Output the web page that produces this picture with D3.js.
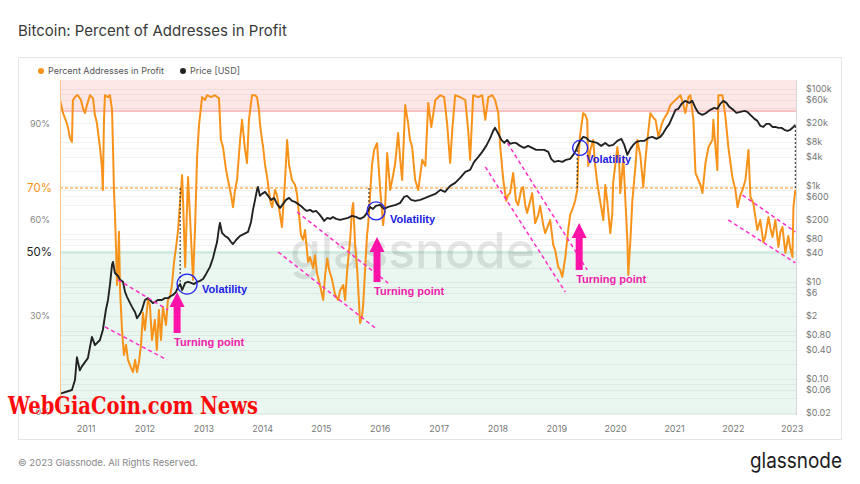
<!DOCTYPE html>
<html>
<head>
<meta charset="utf-8">
<script src="https://cdn.jsdelivr.net/npm/d3@7"></script>
<style>
  body { margin: 0; background: #fff; }
  svg { display: block; font-family: Inter, "Noto Sans", sans-serif; }
</style>
</head>
<body>
<svg id="chart" width="860" height="484"></svg>
<script>
// percent of addresses in profit
const profitSeries = [
["2010-07-23",97.5],["2010-08-11",93.4],["2010-08-29",91],["2010-09-10",89],["2010-09-23",85.6],["2010-10-05",84.4],["2010-10-11",97.5],["2010-10-30",98.8],["2010-11-11",99],["2010-11-30",97.5],["2010-12-12",95],["2010-12-25",93.4],
["2011-01-07",96],["2011-01-25",99],["2011-02-13",98],["2011-02-25",92.8],["2011-03-09",90.3],["2011-03-28",82.8],["2011-04-09",76.6],["2011-04-15",69.4],["2011-04-22",91],["2011-04-28",99],["2011-05-17",98.4],["2011-05-29",99],["2011-06-11",94.4],["2011-06-17",82.8],["2011-06-23",69.4],["2011-06-29",62.2],["2011-07-06",50.6],["2011-07-12",39.7],["2011-07-18",46],["2011-07-24",56.3],["2011-07-31",38],["2011-08-12",25.6],["2011-08-24",17.8],["2011-09-06",21],["2011-09-18",16.3],["2011-10-07",13.8],["2011-10-19",12.5],["2011-11-01",16.3],["2011-11-13",12.5],["2011-11-25",15.6],["2011-12-08",21],["2011-12-20",31],
["2012-01-01",25.6],["2012-01-20",35],["2012-02-01",33.4],["2012-02-14",22.5],["2012-03-03",28.8],["2012-03-15",19.4],["2012-03-28",31.9],["2012-04-10",22.5],["2012-04-22",32.8],["2012-05-11",27.2],["2012-05-23",35],["2012-06-05",36],["2012-06-17",39.7],["2012-06-30",46.9],["2012-07-12",51.3],["2012-07-25",56.9],["2012-08-07",66],["2012-08-19",74],["2012-08-25",66],["2012-09-07",45.3],["2012-09-19",64.7],["2012-09-25",73.4],["2012-10-08",60],["2012-10-26",41.3],["2012-11-07",56.9],["2012-11-20",79.7],["2012-12-02",89.7],["2012-12-21",98.4],
["2013-01-09",97.5],["2013-01-21",99],["2013-02-15",98.4],["2013-03-11",99],["2013-04-05",98],["2013-04-17",85],["2013-04-30",82.8],["2013-05-19",75.6],["2013-05-31",72.5],["2013-06-19",67.8],["2013-07-01",64],["2013-07-14",69.4],["2013-07-26",72.5],["2013-08-14",85],["2013-08-26",91.3],["2013-09-14",81.9],["2013-09-26",77.8],["2013-10-08",91.3],["2013-10-27",99],["2013-11-15",99],["2013-11-27",98.4],["2013-12-09",94.4],["2013-12-15",90.3],["2013-12-28",85],
["2014-01-04",82.8],["2014-01-16",77.2],["2014-01-29",73.4],["2014-02-17",66],["2014-03-01",64],["2014-03-19",69.4],["2014-03-31",67.8],["2014-04-19",61.6],["2014-05-01",57.8],["2014-05-20",72.5],["2014-06-02",85],["2014-06-14",77.2],["2014-07-02",72.5],["2014-07-21",71],["2014-08-03",67.8],["2014-08-15",61.6],["2014-08-27",55.3],["2014-09-09",53.8],["2014-09-21",56.9],["2014-10-10",46.9],["2014-10-22",48.4],["2014-11-10",45],["2014-11-22",49],["2014-12-04",43.4],["2014-12-23",39.7],
["2015-01-12",35],["2015-01-24",42.8],["2015-02-06",48],["2015-02-18",44.4],["2015-03-08",41.3],["2015-03-27",36.6],["2015-04-15",35],["2015-04-27",38],["2015-05-16",39.7],["2015-05-28",35],["2015-06-10",44.4],["2015-06-28",53.8],["2015-07-10",63.1],["2015-07-17",65.3],["2015-07-29",52.2],["2015-08-11",44.4],["2015-08-23",33.4],["2015-08-29",27.8],["2015-09-11",30.3],["2015-09-17",33.4],["2015-09-29",44.4],["2015-10-11",55.3],["2015-10-18",58.4],["2015-10-30",67.8],["2015-11-11",77.2],["2015-11-24",81.9],["2015-12-12",84],
["2016-01-01",69.4],["2016-01-19",58.4],["2016-02-01",64.7],["2016-02-13",80.9],["2016-03-03",69.4],["2016-03-21",74],["2016-04-03",77.8],["2016-04-21",87.2],["2016-05-04",78.8],["2016-05-16",72.5],["2016-06-04",95.9],["2016-06-22",90.3],["2016-07-04",85],["2016-07-17",82.8],["2016-08-05",72.5],["2016-08-24",69.4],["2016-09-18",78.8],["2016-10-07",76.9],["2016-10-25",96.6],["2016-11-13",89],["2016-12-08",97.5],
["2017-01-08",99],["2017-02-01",98.4],["2017-02-20",89.7],["2017-03-10",77.8],["2017-03-23",88],["2017-04-10",99],["2017-05-11",98.4],["2017-06-12",97.5],["2017-06-30",88],["2017-07-12",78.8],["2017-07-31",99],["2017-09-01",98.4],["2017-09-25",99],["2017-10-14",91.3],["2017-11-02",98.4],["2017-11-27",99],["2017-12-14",97.5],
["2018-01-03",93.4],["2018-01-15",82.8],["2018-02-03",72.5],["2018-02-21",66],["2018-03-05",67.8],["2018-03-17",68.4],["2018-04-05",74.7],["2018-04-23",66],["2018-05-06",64.7],["2018-05-25",69.4],["2018-06-06",70.3],["2018-06-19",64.7],["2018-07-01",62.2],["2018-07-20",66],["2018-08-01",68.4],["2018-08-20",59],["2018-09-08",61.6],["2018-09-20",64.4],["2018-10-09",58.4],["2018-10-21",55.9],["2018-11-09",58.4],["2018-11-21",60],["2018-12-10",52.2],["2018-12-22",50.6],
["2019-01-10",45.3],["2019-01-22",44.4],["2019-02-04",42.2],["2019-02-23",48.4],["2019-03-13",56.9],["2019-03-25",61.6],["2019-04-13",64],["2019-04-25",66],["2019-05-08",69.4],["2019-05-14",78.8],["2019-05-26",86.6],["2019-06-08",91.3],["2019-06-14",93.4],["2019-06-27",92.8],["2019-07-09",91.3],["2019-07-15",76.9],["2019-07-28",81.9],["2019-08-15",85],["2019-08-27",77.2],["2019-09-09",71.6],["2019-09-27",66],["2019-10-17",60],["2019-10-29",70.9],["2019-11-10",66],["2019-11-29",55.9],["2019-12-11",61.6],["2019-12-17",71.6],["2019-12-30",77.2],
["2020-01-12",82.8],["2020-01-24",77.2],["2020-01-30",68.4],["2020-02-12",75.6],["2020-02-18",79.7],["2020-03-02",66],["2020-03-14",53.8],["2020-03-20",42.8],["2020-04-02",53.8],["2020-04-14",66],["2020-05-03",76.6],["2020-05-15",85],["2020-06-03",80],["2020-06-21",70.3],["2020-07-04",78.8],["2020-07-16",85],["2020-08-04",93.4],["2020-08-23",91.9],["2020-09-05",91.3],["2020-09-23",85.9],["2020-10-12",89.7],["2020-10-24",91.3],["2020-11-18",93.4],["2020-12-06",95.9],["2020-12-19",96.6],
["2021-01-07",97.5],["2021-01-25",98.4],["2021-02-07",99],["2021-02-25",95.9],["2021-03-09",93.4],["2021-03-28",98.4],["2021-04-09",99],["2021-04-28",91.3],["2021-05-11",74.7],["2021-05-29",72.5],["2021-06-11",71],["2021-06-23",68.4],["2021-07-12",77.8],["2021-07-31",82.8],["2021-08-24",85],["2021-08-30",91.3],["2021-09-11",83.4],["2021-09-24",75.6],["2021-09-30",99],["2021-10-25",99],["2021-11-13",92.2],["2021-12-01",82.8],["2021-12-26",73.4],
["2022-01-14",69.4],["2022-01-27",64],["2022-02-14",67.8],["2022-02-27",69.4],["2022-03-17",72.5],["2022-04-05",81.9],["2022-04-17",67.2],["2022-05-05",65.3],["2022-05-30",56.9],["2022-06-17",60],["2022-07-06",53.1],["2022-07-18",54.7],["2022-08-07",60.9],["2022-08-19",57.5],["2022-09-01",54.7],["2022-09-19",60],["2022-10-08",51.6],["2022-10-20",56.3],["2022-11-02",57.8],["2022-11-20",49.7],["2022-12-08",55],["2022-12-20",51.3],
["2023-01-03",48.4],["2023-01-09",64],["2023-01-21",69.4]
];

// price in USD (log axis on the right)
const priceSeries = [
["2010-07-23",0.05],["2010-08-04",0.051],["2010-09-05",0.055],["2010-10-05",0.059],["2010-10-24",0.095],["2010-11-05",0.28],["2010-11-23",0.15],["2010-12-05",0.18],["2010-12-24",0.22],
["2011-01-12",0.27],["2011-02-06",0.74],["2011-02-25",0.5],["2011-03-09",0.55],["2011-03-28",0.64],["2011-04-15",1.03],["2011-05-04",2.7],["2011-05-17",4.3],["2011-05-29",8.8],["2011-06-11",22.9],["2011-06-17",26.4],["2011-06-29",15.6],["2011-07-18",13.5],["2011-07-31",11.2],["2011-08-18",10.2],["2011-08-31",6.3],["2011-09-12",5.0],["2011-10-01",3.7],["2011-10-13",3.1],["2011-11-01",2.4],["2011-11-13",1.8],["2011-12-01",2.2],["2011-12-14",2.7],
["2012-01-01",4.3],["2012-01-20",4.7],["2012-02-01",4.3],["2012-02-20",3.7],["2012-03-03",3.9],["2012-03-21",4.3],["2012-04-16",4.3],["2012-05-04",4.7],["2012-05-23",4.7],["2012-06-11",5.2],["2012-06-24",5.5],["2012-07-12",6.3],["2012-07-25",8.0],["2012-08-07",9.2],["2012-08-19",6.9],["2012-09-07",9.7],["2012-09-25",10.2],["2012-10-14",9.7],["2012-11-01",9.2],["2012-11-20",10.2],["2012-12-08",10.7],["2012-12-27",11.7],
["2013-01-15",14.9],["2013-02-08",20.8],["2013-02-27",31.9],["2013-03-11",46.7],["2013-03-24",68],["2013-04-05",133],["2013-04-11",169],["2013-04-24",105],["2013-05-12",91],["2013-05-31",83],["2013-06-19",68],["2013-07-01",62],["2013-07-20",75],["2013-08-14",91],["2013-09-08",100],["2013-10-02",110],["2013-10-21",177],["2013-11-02",315],["2013-11-15",507],["2013-11-27",817],["2013-12-03",942],["2013-12-15",614],["2013-12-28",675],
["2014-01-16",743],["2014-02-04",614],["2014-02-23",507],["2014-03-13",557],["2014-03-31",419],["2014-04-19",346],["2014-05-08",419],["2014-05-26",507],["2014-06-14",557],["2014-07-02",483],["2014-07-21",461],["2014-08-08",419],["2014-08-27",380],["2014-09-15",330],["2014-10-03",300],["2014-10-22",315],["2014-11-10",286],["2014-11-28",300],["2014-12-17",260],
["2015-01-05",215],["2015-01-18",186],["2015-02-06",215],["2015-02-24",205],["2015-03-14",225],["2015-04-02",205],["2015-04-27",195],["2015-05-21",205],["2015-06-15",215],["2015-07-10",236],["2015-08-03",225],["2015-08-29",205],["2015-09-22",225],["2015-10-11",273],["2015-10-30",363],["2015-11-17",330],["2015-12-05",380],["2015-12-30",399],
["2016-01-24",330],["2016-02-20",363],["2016-03-13",380],["2016-04-07",399],["2016-05-04",440],["2016-05-28",585],["2016-06-16",614],["2016-07-11",507],["2016-08-05",483],["2016-09-05",507],["2016-10-07",557],["2016-11-06",614],["2016-12-08",675],
["2017-01-08",817],["2017-02-06",743],["2017-03-10",988],["2017-04-10",1140],["2017-05-11",1450],["2017-06-12",1930],["2017-07-12",2120],["2017-08-06",3100],["2017-09-01",3940],["2017-09-25",5000],["2017-10-20",6650],["2017-11-14",9730],["2017-12-02",13600],["2017-12-14",15700],
["2018-01-03",11800],["2018-01-22",8850],["2018-02-09",7670],["2018-02-27",8850],["2018-03-17",7310],["2018-04-05",7670],["2018-04-23",7670],["2018-05-18",6650],["2018-06-12",6040],["2018-07-07",6650],["2018-08-01",6040],["2018-08-26",5500],["2018-09-20",5500],["2018-10-15",5500],["2018-11-09",5000],["2018-11-27",3580],["2018-12-16",3100],
["2019-01-10",3250],["2019-02-04",3100],["2019-02-27",3410],["2019-03-25",3580],["2019-04-13",4330],["2019-05-02",5500],["2019-05-14",6970],["2019-05-26",8430],["2019-06-14",10200],["2019-07-03",9730],["2019-07-21",8430],["2019-08-15",8040],["2019-09-09",7670],["2019-10-04",6650],["2019-10-29",7670],["2019-11-22",6650],["2019-12-17",6970],
["2020-01-12",8430],["2020-02-06",9270],["2020-02-24",6970],["2020-03-14",4330],["2020-04-02",5770],["2020-04-20",6970],["2020-05-09",8040],["2020-06-03",8430],["2020-06-27",8430],["2020-07-22",9730],["2020-08-16",10200],["2020-09-11",9270],["2020-10-05",10200],["2020-10-24",12400],["2020-11-12",15700],["2020-11-30",19000],["2020-12-19",26500],
["2021-01-07",37000],["2021-01-25",38800],["2021-02-13",49200],["2021-03-09",56800],["2021-04-03",51600],["2021-04-21",56800],["2021-05-11",40600],["2021-05-29",32100],["2021-06-23",29200],["2021-07-18",32100],["2021-08-11",37000],["2021-09-05",40600],["2021-09-24",38800],["2021-10-12",49200],["2021-10-31",56800],["2021-11-19",51600],["2021-12-07",42700],
["2022-01-01",37000],["2022-01-20",32100],["2022-02-14",33700],["2022-03-11",35200],["2022-03-29",33700],["2022-04-17",29200],["2022-05-12",24100],["2022-05-30",21900],["2022-06-17",17300],["2022-07-06",16400],["2022-07-25",19000],["2022-08-13",19000],["2022-09-01",16400],["2022-09-19",16400],["2022-10-08",15700],["2022-10-27",15700],["2022-11-14",14300],["2022-12-03",13600],["2022-12-20",14300],
["2023-01-09",16400],["2023-01-21",18100]
];

const priceTicks = [100000, 60000, 20000, 8000, 4000, 1000, 600, 200, 80, 40, 10, 6, 2, 0.8, 0.4, 0.1, 0.06, 0.02];
const priceTickLabels = ["$100k","$60k","$20k","$8k","$4k","$1k","$600","$200","$80","$40","$10","$6","$2","$0.80","$0.40","$0.10","$0.06","$0.02"];
const priceGrid = [0.02,0.04,0.06,0.08,0.1,0.2,0.4,0.6,0.8,1,2,4,6,8,10,20,40,60,80,100,200,400,600,800,1000,2000,4000,6000,8000,10000,20000,40000,60000,80000,100000];
const yearTicks = [2011,2012,2013,2014,2015,2016,2017,2018,2019,2020,2021,2022,2023];
const pctTicks = [90, 60, 30, 0];
const pctMarked = [70, 50];
const redLevel = 94, orangeLevel = 70, greenLevel = 50;

// editor annotations, in data units
const trendDates = [["2011-07-18","2012-05-23"],["2011-04-28","2012-05-17"],["2014-08-03","2016-02-19"],["2014-04-07","2015-11-30"],["2018-02-28","2019-07-09"],["2017-10-14","2019-02-23"],["2022-02-27","2023-01-21"],["2021-12-01","2023-01-21"]];
const trendPcts = [[41.3,31.9],[26.6,16.3],[62.5,40.3],[50,26.3],[84.1,44.4],[76.6,37.5],[67.8,56.3],[60,46.6]];
const volatilityDates = ["2012-09-19","2015-12-06","2019-05-26"];
const volatilityPrices = [9.2, 300, 6040];
const turningDates = ["2012-07-19","2015-12-12","2019-05-20"];
const turningTops = [37.5, 54.7, 59.1];
const turningBottoms = [24.7, 40.6, 44.4];
const connectorDates = ["2012-08-07","2015-10-23","2019-05-08","2023-01-21"];

const parse = d3.timeParse("%Y-%m-%d");
const profit = profitSeries.map(d => ({date: parse(d[0]), v: d[1]}));
const price = priceSeries.map(d => ({date: parse(d[0]), v: d[1]}));

const plot = {left: 60, right: 796, top: 80, bottom: 415};

const x = d3.scaleTime()
    .domain([parse("2010-07-23"), parse("2023-01-25")])
    .range([plot.left, plot.right]);
const yPct = d3.scaleLinear().domain([0, 100]).range([412, 92]);
const yPrice = d3.scaleLog().domain([0.02, 100000]).range([412.7, 89]);

const svg = d3.select("#chart");

// card
svg.append("rect").attr("x", 18.5).attr("y", 57.5).attr("width", 823).attr("height", 382)
    .attr("fill", "#fff").attr("stroke", "#e6e6e6");

svg.append("text").attr("x", 18).attr("y", 36)
    .attr("font-size", 15).attr("fill", "#3a3a3a")
    .text("Bitcoin: Percent of Addresses in Profit");

// legend
let legend = svg.append("g").attr("font-size", 9).attr("fill", "#555");
legend.append("circle").attr("cx", 41).attr("cy", 71).attr("r", 3).attr("fill", "#f7931a");
legend.append("text").attr("x", 48).attr("y", 74).text("Percent Addresses in Profit");
legend.append("circle").attr("cx", 183).attr("cy", 71).attr("r", 3).attr("fill", "#222");
legend.append("text").attr("x", 190).attr("y", 74).text("Price [USD]");

svg.append("clipPath").attr("id", "clip")
    .append("rect").attr("x", plot.left).attr("y", plot.top)
    .attr("width", plot.right - plot.left).attr("height", plot.bottom - plot.top);

let g = svg.append("g").attr("clip-path", "url(#clip)");

// zones
g.append("rect").attr("x", plot.left).attr("y", plot.top)
    .attr("width", plot.right - plot.left).attr("height", yPct(redLevel) - plot.top)
    .attr("fill", "#fde7e7");
g.append("rect").attr("x", plot.left).attr("y", yPct(greenLevel))
    .attr("width", plot.right - plot.left).attr("height", plot.bottom - yPct(greenLevel))
    .attr("fill", "#e9f7f0");

// log grid
g.selectAll("line.grid").data(priceGrid).enter().append("line")
    .attr("class", "grid")
    .attr("x1", plot.left).attr("x2", plot.right)
    .attr("y1", d => Math.round(yPrice(d)) + 0.5).attr("y2", d => Math.round(yPrice(d)) + 0.5)
    .attr("stroke", "#000").attr("stroke-opacity", 0.05);

g.append("line").attr("x1", plot.left).attr("x2", plot.right)
    .attr("y1", yPct(redLevel)).attr("y2", yPct(redLevel))
    .attr("stroke", "#f4aaaa").attr("stroke-width", 1.2);
g.append("line").attr("x1", plot.left).attr("x2", plot.right)
    .attr("y1", yPct(greenLevel)).attr("y2", yPct(greenLevel))
    .attr("stroke", "#a9e2c5").attr("stroke-width", 1.2);

// watermark
g.append("text").attr("x", 290).attr("y", 268)
    .attr("font-size", 50).attr("font-weight", 500)
    .attr("textLength", 245).attr("lengthAdjust", "spacingAndGlyphs")
    .attr("fill", "#000").attr("fill-opacity", 0.1)
    .text("glassnode");

g.append("line").attr("x1", plot.left).attr("x2", plot.right)
    .attr("y1", yPct(orangeLevel)).attr("y2", yPct(orangeLevel))
    .attr("stroke", "#f7931a").attr("stroke-width", 1).attr("stroke-dasharray", "3,2");

let pctLine = d3.line().x(d => x(d.date)).y(d => yPct(d.v));
let priceLine = d3.line().x(d => x(d.date)).y(d => yPrice(d.v));

g.append("path").datum(profit).attr("d", pctLine)
    .attr("fill", "none").attr("stroke", "#f7931a").attr("stroke-width", 2)
    .attr("stroke-linejoin", "round");
g.append("path").datum(price).attr("d", priceLine)
    .attr("fill", "none").attr("stroke", "#222").attr("stroke-width", 1.9)
    .attr("stroke-linejoin", "round");

// plot edges
svg.append("line").attr("x1", plot.left + 0.5).attr("x2", plot.left + 0.5)
    .attr("y1", plot.top).attr("y2", plot.bottom).attr("stroke", "#f9c690");
svg.append("line").attr("x1", plot.right + 0.5).attr("x2", plot.right + 0.5)
    .attr("y1", plot.top).attr("y2", plot.bottom).attr("stroke", "#d6d6d6");

// dashed connectors from the 70% line to the price
let bis = d3.bisector(d => d.date).center;
connectorDates.forEach(function (s) {
    let dt = parse(s);
    let p = price[bis(price, dt)];
    svg.append("line").attr("x1", x(dt)).attr("x2", x(dt))
        .attr("y1", yPct(orangeLevel)).attr("y2", yPrice(p.v))
        .attr("stroke", "#333").attr("stroke-width", 1.1).attr("stroke-dasharray", "2,2");
});

// trend channels
trendDates.forEach(function (d, i) {
    svg.append("line")
        .attr("x1", x(parse(d[0]))).attr("y1", yPct(trendPcts[i][0]))
        .attr("x2", x(parse(d[1]))).attr("y2", yPct(trendPcts[i][1]))
        .attr("stroke", "#ff2fc8").attr("stroke-width", 1.5).attr("stroke-dasharray", "4,3");
});

// volatility circles
let circleR = [10, 9, 7.5];
let volOffset = [[15, 9], [14, 12], [6, 15]];
volatilityDates.forEach(function (s, i) {
    let cx = x(parse(s)), cy = yPrice(volatilityPrices[i]);
    svg.append("circle").attr("cx", cx).attr("cy", cy).attr("r", circleR[i])
        .attr("fill", "none").attr("stroke", "#2424f0").attr("stroke-width", 1.3);
    svg.append("text").attr("x", cx + volOffset[i][0]).attr("y", cy + volOffset[i][1])
        .attr("font-family", "Liberation Sans, Arial, sans-serif")
        .attr("font-weight", "bold").attr("font-size", 11).attr("fill", "#2020e6")
        .text("Volatility");
});

// turning point arrows
turningDates.forEach(function (s, i) {
    let cx = x(parse(s)), tip = yPct(turningTops[i]), base = yPct(turningBottoms[i]);
    let head = 15, hw = 7.5, sw = 3.5;
    let pts = [[cx, tip], [cx + hw, tip + head], [cx + sw, tip + head], [cx + sw, base],
               [cx - sw, base], [cx - sw, tip + head], [cx - hw, tip + head]];
    svg.append("path").attr("d", "M" + pts.join("L") + "Z").attr("fill", "#ff12a8");
    svg.append("text").attr("x", cx - 3).attr("y", base + 13)
        .attr("font-family", "Liberation Sans, Arial, sans-serif")
        .attr("font-weight", "bold").attr("font-size", 11).attr("fill", "#f020aa")
        .text("Turning point");
});

// right axis labels
svg.append("g").attr("font-size", 9).attr("fill", "#777")
    .selectAll("text").data(priceTicks).enter().append("text")
    .attr("x", 806).attr("y", d => yPrice(d)).attr("dy", "0.35em")
    .text((d, i) => priceTickLabels[i]);

// left axis labels
svg.append("g").attr("font-size", 9).attr("fill", "#888").attr("text-anchor", "end")
    .selectAll("text").data(pctTicks).enter().append("text")
    .attr("x", 50).attr("y", d => yPct(d)).attr("dy", "0.35em")
    .text(d => d + "%");
svg.append("g").attr("font-size", 11.5).attr("text-anchor", "end")
    .selectAll("text").data(pctMarked).enter().append("text")
    .attr("x", 52).attr("y", d => yPct(d)).attr("dy", "0.35em")
    .attr("fill", d => d === orangeLevel ? "#f7931a" : "#222")
    .text(d => d + "%");

// years
svg.append("g").attr("font-size", 9).attr("fill", "#777").attr("text-anchor", "middle")
    .selectAll("text").data(yearTicks).enter().append("text")
    .attr("x", d => x(new Date(d, 0, 1))).attr("y", 432)
    .text(d => d);

// footer
svg.append("text").attr("x", 18).attr("y", 466).attr("font-size", 9.5).attr("fill", "#888")
    .text("\u00a9 2023 Glassnode. All Rights Reserved.");
svg.append("text").attr("x", 750).attr("y", 468).attr("font-size", 21).attr("fill", "#1c1c1c")
    .attr("textLength", 92).attr("lengthAdjust", "spacingAndGlyphs")
    .text("glassnode");

// site stamp
svg.append("text").attr("x", 8).attr("y", 414)
    .attr("font-family", "DejaVu Serif, serif").attr("font-weight", "bold").attr("font-size", 25)
    .attr("textLength", 250).attr("lengthAdjust", "spacingAndGlyphs")
    .attr("fill", "#ff0a0a")
    .text("WebGiaCoin.com News");
</script>
</body>
</html>
